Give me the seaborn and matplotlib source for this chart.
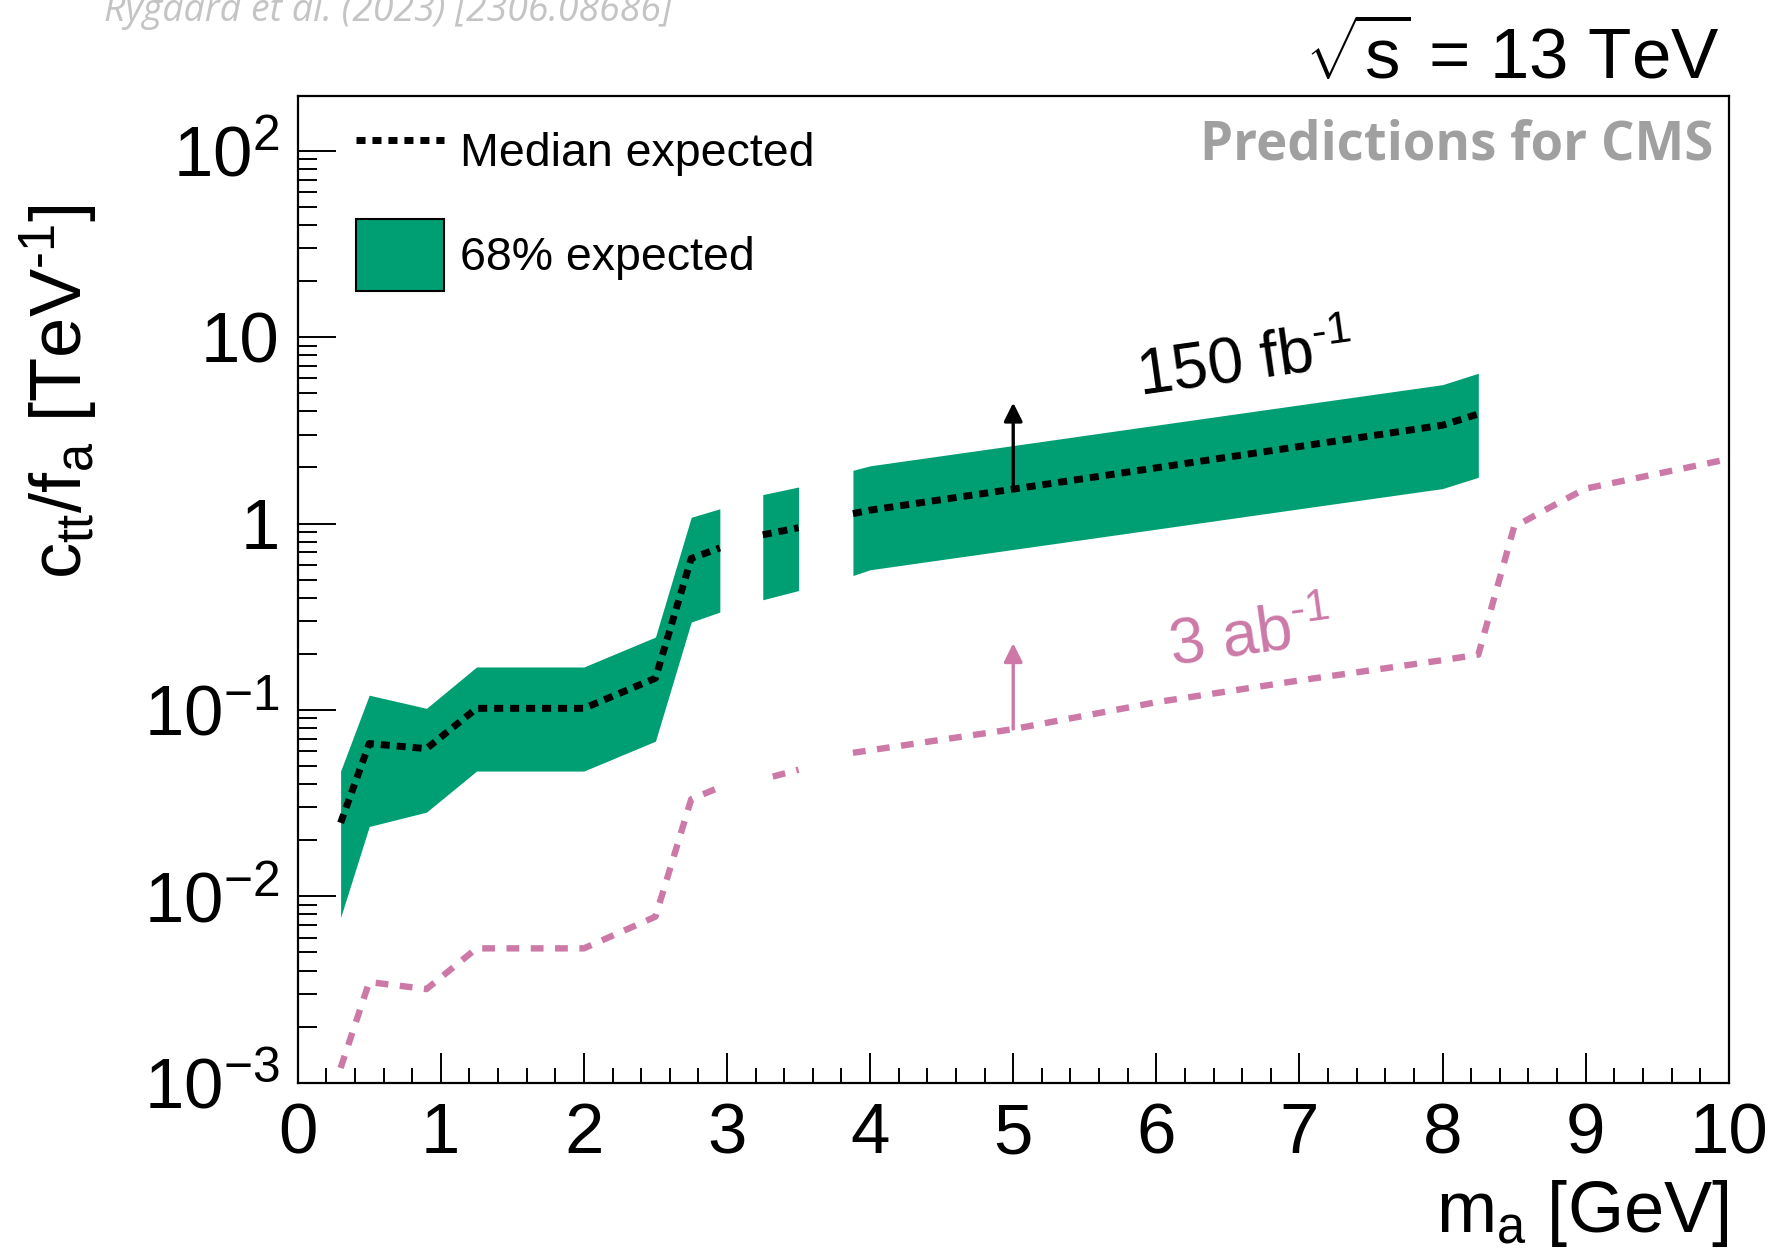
import matplotlib
matplotlib.use("Agg")
import matplotlib.pyplot as plt
import seaborn as sns
import pandas as pd
import numpy as np
from matplotlib.lines import Line2D
from matplotlib.patches import Patch
from matplotlib.ticker import FixedLocator, FuncFormatter, MultipleLocator, LogLocator

# 150 fb^-1 expected limit (median and 68% band), split where the band has gaps
mass_150 = [0.3, 0.5, 0.9, 1.25, 2.0, 2.5, 2.75, 2.95, 3.25, 3.5, 3.88, 4.0, 5.0, 6.0, 7.0, 8.0, 8.25]
segment_150 = [0, 0, 0, 0, 0, 0, 0, 0, 1, 1, 2, 2, 2, 2, 2, 2, 2]
median_150 = [0.0248, 0.066, 0.062, 0.102, 0.102, 0.148, 0.65, 0.74, 0.87, 0.95,
              1.13, 1.18, 1.53, 1.99, 2.59, 3.37, 3.87]
upper_150 = [0.047, 0.12, 0.102, 0.17, 0.17, 0.246, 1.08, 1.2, 1.43, 1.57,
             1.93, 2.04, 2.62, 3.37, 4.33, 5.56, 6.4]
lower_150 = [0.0077, 0.0237, 0.0283, 0.047, 0.047, 0.068, 0.296, 0.335, 0.39, 0.437,
             0.526, 0.565, 0.726, 0.933, 1.2, 1.54, 1.77]

# 3 ab^-1 projection
mass_3ab = [0.3, 0.5, 0.9, 1.25, 2.0, 2.5, 2.75, 2.94, 3.32, 3.5, 3.88, 5.0, 6.0, 7.0,
            8.0, 8.25, 8.5, 8.75, 9.0, 10.0]
segment_3ab = [0, 0, 0, 0, 0, 0, 0, 0, 1, 1, 2, 2, 2, 2, 2, 2, 2, 2, 2, 2]
limit_3ab = [0.0012, 0.00347, 0.00318, 0.00526, 0.00526, 0.00778, 0.0332, 0.0382, 0.0439,
             0.0478, 0.0589, 0.0789, 0.11, 0.144, 0.185, 0.198, 0.96, 1.22, 1.54, 2.22]

y_ticks = [1e-3, 1e-2, 1e-1, 1, 10, 100]

green = "#009E73"
pink = "#CC79A7"

df150 = pd.DataFrame({"m": mass_150, "seg": segment_150, "med": median_150,
                      "lo": lower_150, "hi": upper_150})
df3ab = pd.DataFrame({"m": mass_3ab, "seg": segment_3ab, "lim": limit_3ab})

sns.set_theme(style="ticks")
plt.rcParams["font.family"] = ["Liberation Sans", "DejaVu Sans"]
plt.rcParams["mathtext.fontset"] = "custom"
plt.rcParams["mathtext.rm"] = "Liberation Sans"
plt.rcParams["mathtext.it"] = "Liberation Sans:italic"
plt.rcParams["mathtext.default"] = "regular"
for key in ["text.color", "axes.labelcolor", "xtick.color", "ytick.color", "axes.edgecolor"]:
    plt.rcParams[key] = "black"

fig, ax = plt.subplots(figsize=(17.74, 12.58), dpi=100)
fig.subplots_adjust(left=0.1678, right=0.9745, bottom=0.1393, top=0.9235)

# 68% band, one piece per segment
for seg, part in df150.groupby("seg"):
    ax.fill_between(part["m"], part["lo"], part["hi"], color=green, linewidth=0, zorder=1)

black_dash = (0, (1.3, 1.0))
pink_dash = (0, (2.0, 1.8))
sns.lineplot(data=df150, x="m", y="med", units="seg", estimator=None, ax=ax,
             color="black", linewidth=5, linestyle=black_dash,
             dash_capstyle="butt", legend=False, zorder=3)
sns.lineplot(data=df3ab, x="m", y="lim", units="seg", estimator=None, ax=ax,
             color=pink, linewidth=4.6, linestyle=pink_dash,
             dash_capstyle="butt", legend=False, zorder=3)

ax.set_yscale("log")
ax.set_xlim(0, 10)
ax.set_ylim(1e-3, 196)

ax.xaxis.set_major_locator(MultipleLocator(1))
ax.xaxis.set_minor_locator(MultipleLocator(0.2))
ax.yaxis.set_major_locator(FixedLocator(y_ticks))
ax.yaxis.set_minor_locator(LogLocator(base=10, subs=np.arange(2, 10)))


def log_label(v, pos):
    e = int(round(np.log10(v)))
    if e == 0:
        return "1"
    if e == 1:
        return "10"
    return "$10^{%d}$" % e


ax.yaxis.set_major_formatter(FuncFormatter(log_label))
ax.yaxis.set_minor_formatter(FuncFormatter(lambda v, p: ""))

ax.tick_params(axis="both", which="both", direction="in", color="black",
               labelcolor="black", width=1.4, labelsize=51, top=False, right=False)
ax.tick_params(axis="y", which="major", length=27, pad=13)
ax.tick_params(axis="y", which="minor", length=14)
ax.tick_params(axis="x", which="major", length=21.5, pad=14)
ax.tick_params(axis="x", which="minor", length=11)
for s in ax.spines.values():
    s.set_color("black")
    s.set_linewidth(1.6)

ax.set_xlabel("m$_a$ [GeV]", fontsize=52, loc="right")
ax.xaxis.set_label_coords(1.0, -0.097)
ax.set_ylabel(r"c$_{tt}$/f$_a$ [TeV$^{\text{-}1}$]", fontsize=52, loc="top")
ax.yaxis.set_label_coords(-0.138, 0.891)

# arrows and luminosity labels
ax.annotate("", xy=(5, 4.45), xytext=(5, 1.56),
            arrowprops=dict(arrowstyle="-|>", color="black", lw=2.4,
                            mutation_scale=28, shrinkA=0, shrinkB=0), zorder=4)
ax.annotate("", xy=(5, 0.228), xytext=(5, 0.079),
            arrowprops=dict(arrowstyle="-|>", color=pink, lw=2.4,
                            mutation_scale=28, shrinkA=0, shrinkB=0), zorder=4)
ax.text(6.62, 7.25, r"150 fb$^{\text{-}1}$", fontsize=46, rotation=8, rotation_mode="anchor",
        ha="center", va="center", color="black")
ax.text(6.66, 0.244, r"3 ab$^{\text{-}1}$", fontsize=46, rotation=8, rotation_mode="anchor",
        ha="center", va="center", color=pink)

handles = [Line2D([], [], color="black", linewidth=5, linestyle=black_dash,
                  dash_capstyle="butt"),
           Patch(facecolor=green, edgecolor="black", linewidth=1.5)]
ax.legend(handles, ["Median expected", "68% expected"], loc="upper left",
          bbox_to_anchor=(0.0405, 0.981), frameon=False, fontsize=33.5,
          handlelength=1.9, handleheight=2.0, handletextpad=0.35,
          labelspacing=0.7, borderpad=0, borderaxespad=0)

fig.text(0.9695, 0.937, r"$\sqrt{s}$ = 13 TeV", fontsize=51, ha="right", va="baseline")
fig.text(0.966, 0.884, "Predictions for CMS", fontsize=38, fontweight="bold",
         family=["Open Sans", "DejaVu Sans"], color="#a0a0a0", ha="right", va="center")
fig.text(0.0586, 0.983, "Rygaard et al. (2023) [2306.08686]", fontsize=27,
         style="italic", family=["Open Sans", "DejaVu Sans"], color="#c4c4c4",
         ha="left", va="baseline")

fig.savefig("out.png", dpi=100)
